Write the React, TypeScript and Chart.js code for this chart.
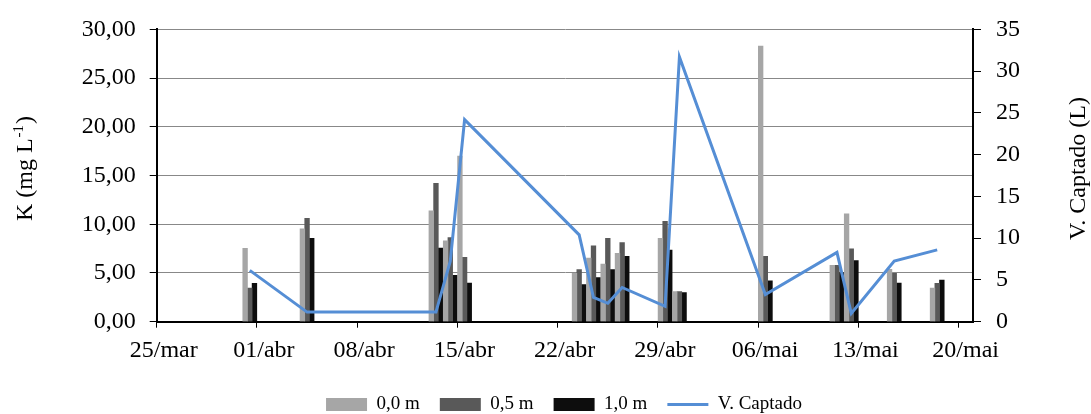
import React, { useEffect, useRef } from "react";
import { Chart, registerables } from "chart.js";

Chart.register(...registerables);

// ---- data ----
const dates = [
  "31/mar", "04/abr", "13/abr", "14/abr", "15/abr", "23/abr", "24/abr", "25/abr",
  "26/abr", "29/abr", "30/abr", "06/mai", "11/mai", "12/mai", "15/mai", "18/mai",
];
const k00 = [7.52, 9.53, 11.38, 8.3, 17.0, 4.97, 6.54, 5.91, 7.02, 8.56, 3.09, 28.29, 5.78, 11.07, 5.37, 3.46];
const k05 = [3.46, 10.61, 14.2, 8.63, 6.6, 5.34, 7.79, 8.56, 8.12, 10.3, 3.09, 6.71, 5.78, 7.49, 4.97, 3.93];
const k10 = [3.93, 8.56, 7.55, 4.77, 3.97, 3.8, 4.53, 5.34, 6.71, 7.35, 2.99, 4.2, 5.03, 6.28, 3.96, 4.27];
const vCaptado = [6.15, 1.15, 1.15, 7.25, 24.2, 10.4, 2.9, 2.2, 4.1, 1.85, 31.7, 3.25, 8.3, 1.0, 7.25, 8.6];

const tickLabels = ["25/mar", "01/abr", "08/abr", "15/abr", "22/abr", "29/abr", "06/mai", "13/mai", "20/mai"];
const seriesLabels = ["0,0 m", "0,5 m", "1,0 m", "V. Captado"];
const leftTitleParts = ["K (mg L", "-1", ")"];
const rightTitle = "V. Captado (L)";

// days counted from 25/mar (axis origin)
const monthStart: Record<string, number> = { mar: -25, abr: 6, mai: 36 };
const dayIndex = (s: string) => {
  const [d, m] = s.split("/");
  return monthStart[m] + Number(d);
};
// Excel date axis: values sit in the middle of their day slot
const xs = dates.map((d) => dayIndex(d) + 0.5);

const FAMILY = '"Liberation Serif", "Times New Roman", serif';
Chart.defaults.font.family = FAMILY;
Chart.defaults.color = "#000";

const titlePlugin = {
  id: "axisTitles",
  afterDraw(chart: any) {
    const ctx = chart.ctx as CanvasRenderingContext2D;
    const big = `24px ${FAMILY}`;
    const small = `15px ${FAMILY}`;
    ctx.save();
    ctx.fillStyle = "#000";
    ctx.textBaseline = "alphabetic";
    ctx.textAlign = "left";
    ctx.translate(31.7, 169);
    ctx.rotate(-Math.PI / 2);
    ctx.font = big;
    const w1 = ctx.measureText(leftTitleParts[0]).width;
    const w3 = ctx.measureText(leftTitleParts[2]).width;
    ctx.font = small;
    const w2 = ctx.measureText(leftTitleParts[1]).width + 1;
    let x = -(w1 + w2 + w3) / 2;
    ctx.font = big;
    ctx.fillText(leftTitleParts[0], x, 0);
    x += w1 + 1;
    ctx.font = small;
    ctx.fillText(leftTitleParts[1], x, -9);
    x += w2;
    ctx.font = big;
    ctx.fillText(leftTitleParts[2], x, 0);
    ctx.restore();

    ctx.save();
    ctx.fillStyle = "#000";
    ctx.font = big;
    ctx.textAlign = "center";
    ctx.textBaseline = "alphabetic";
    ctx.translate(1085, 168.5);
    ctx.rotate(-Math.PI / 2);
    ctx.fillText(rightTitle, 0, 0);
    ctx.restore();
  },
};

export default function App() {
  const ref = useRef<HTMLCanvasElement>(null);

  useEffect(() => {
    if (!ref.current) return;
    const barCommon = {
      type: "bar" as const,
      yAxisID: "y",
      xAxisID: "x",
      barThickness: 4.67,
      borderWidth: 0,
      pointStyle: "rect",
    };
    const chart = new Chart(ref.current, {
      type: "bar",
      data: {
        datasets: [
          { ...barCommon, label: seriesLabels[0], backgroundColor: "#A6A6A6", data: xs.map((x, i) => ({ x, y: k00[i] })) },
          { ...barCommon, label: seriesLabels[1], backgroundColor: "#595959", data: xs.map((x, i) => ({ x, y: k05[i] })) },
          { ...barCommon, label: seriesLabels[2], backgroundColor: "#0D0D0D", data: xs.map((x, i) => ({ x, y: k10[i] })) },
          {
            type: "line",
            label: seriesLabels[3],
            yAxisID: "y1",
            xAxisID: "x",
            data: xs.map((x, i) => ({ x, y: vCaptado[i] })),
            borderColor: "#558ED5",
            backgroundColor: "#558ED5",
            borderWidth: 3,
            pointRadius: 0,
            pointHoverRadius: 0,
            pointStyle: "line",
            tension: 0,
            order: -1,
          } as any,
        ],
      },
      options: {
        responsive: true,
        maintainAspectRatio: false,
        animation: false,
        events: [],
        layout: { padding: { left: 37, top: 24, right: 0, bottom: 0 } },
        plugins: {
          legend: {
            position: "bottom",
            labels: {
              usePointStyle: true,
              pointStyleWidth: 41,
              boxHeight: 13,
              padding: 20,
              color: "#000",
              font: { size: 19, family: FAMILY },
              sort: (a: any, b: any) => a.datasetIndex - b.datasetIndex,
            },
          },
          tooltip: { enabled: false },
        },
        scales: {
          x: {
            type: "linear",
            min: 0,
            max: 57,
            offset: false,
            afterFit: (s: any) => {
              s.height = 53.3;
            },
            ticks: {
              stepSize: 7,
              includeBounds: false,
              autoSkip: false,
              maxRotation: 0,
              minRotation: 0,
              labelOffset: 7,
              padding: 9,
              color: "#000",
              font: { size: 24, family: FAMILY },
              callback: (v: any) => tickLabels[Math.round(Number(v) / 7)] ?? "",
            },
            grid: {
              drawOnChartArea: false,
              drawTicks: true,
              tickLength: 6,
              tickColor: "#000",
              offset: false,
            },
            border: { color: "#000", width: 2 },
          },
          y: {
            position: "left",
            min: 0,
            max: 30,
            afterFit: (s: any) => {
              s.width = 119.7;
            },
            ticks: {
              stepSize: 5,
              padding: 14,
              color: "#000",
              font: { size: 24, family: FAMILY },
              callback: (v: any) => Number(v).toFixed(2).replace(".", ","),
            },
            grid: { color: "#888", lineWidth: 1, tickColor: "#000", tickLength: 7 },
            border: { color: "#000", width: 2 },
          },
          y1: {
            position: "right",
            min: 0,
            max: 35,
            afterFit: (s: any) => {
              s.width = 118;
            },
            ticks: {
              stepSize: 5,
              padding: 15,
              color: "#000",
              font: { size: 24, family: FAMILY },
            },
            grid: { drawOnChartArea: false, tickColor: "#000", tickLength: 8 },
            border: { color: "#000", width: 2 },
          },
        },
      } as any,
      plugins: [titlePlugin],
    });
    return () => chart.destroy();
  }, []);

  return (
    <div style={{ position: "fixed", left: 0, top: 0, width: 1091, height: 424, background: "#fff" }}>
      <canvas ref={ref} />
    </div>
  );
}
